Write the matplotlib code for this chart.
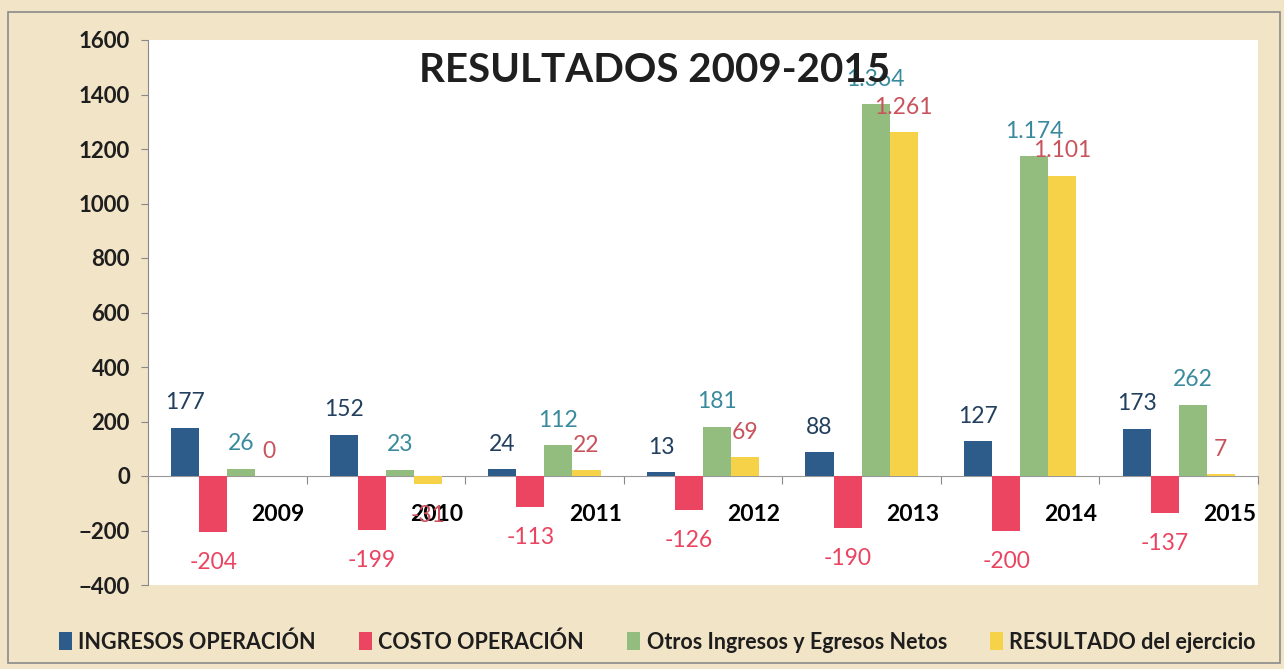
import matplotlib
matplotlib.use("Agg")
import matplotlib.pyplot as plt
from matplotlib.patches import Rectangle, Patch
import numpy as np

# -------- data --------
years = ["2009", "2010", "2011", "2012", "2013", "2014", "2015"]
ingresos = [177, 152, 24, 13, 88, 127, 173]
costo = [-204, -199, -113, -126, -190, -200, -137]
otros = [26, 23, 112, 181, 1364, 1174, 262]
resultado = [0, -31, 22, 69, 1261, 1101, 7]

series_names = ["INGRESOS OPERACIÓN", "COSTO OPERACIÓN",
                "Otros Ingresos y Egresos Netos", "RESULTADO del ejercicio"]

# -------- style --------
BAR_COLORS = ["#2d5c8a", "#ec4562", "#93bd7e", "#f6d248"]
LABEL_COLORS = ["#223f5e", "#ea4461", "#3a8a9e", "#c9535c"]
BG = "#f2e4c6"
plt.rcParams["font.family"] = ["Lato", "DejaVu Sans"]

fig = plt.figure(figsize=(12.84, 6.69), dpi=100)
fig.patch.set_facecolor(BG)
fig.patches.append(Rectangle((8 / 1284, 6 / 669), 1272 / 1284, 651 / 669,
                             transform=fig.transFigure, fill=False,
                             edgecolor="#8a8a8a", lw=1.2))

ax = fig.add_axes([148 / 1284, 1 - 585 / 669, 1110 / 1284, 545 / 669])
ax.set_facecolor("white")

x = np.arange(len(years))
w = 0.177
offsets = [-1.5 * w, -0.5 * w, 0.5 * w, 1.5 * w]
all_series = [ingresos, costo, otros, resultado]

for vals, off, col, lcol in zip(all_series, offsets, BAR_COLORS, LABEL_COLORS):
    ax.bar(x + off, vals, width=w, color=col, zorder=3)
    for xi, v in zip(x, vals):
        txt = f"{v:,}".replace(",", ".")
        dy = 18 if v >= 0 else -22
        ax.annotate(txt, (xi + off, v), xytext=(0, dy), textcoords="offset points",
                    ha="center", va="center", fontsize=16.5, color=lcol, zorder=5)

# category labels, shifted right of each group like the original
for xi, yr in zip(x, years):
    ax.text(xi + 0.32, -143, yr, ha="center", va="center", fontsize=16.5,
            fontweight="bold", color="black", zorder=4)

ax.set_xlim(-0.5, 6.5)
ax.set_ylim(-400, 1600)
ax.set_yticks(np.arange(-400, 1601, 200))
ax.tick_params(axis="y", labelsize=16, length=5, color="#888888", pad=8)
for lab in ax.get_yticklabels():
    lab.set_fontweight("bold")
    lab.set_color("#1e1e1e")

ax.set_xticks(np.arange(-0.5, 7, 1))
ax.set_xticklabels([])
ax.tick_params(axis="x", length=6, color="#888888", direction="out")
ax.spines["bottom"].set_position(("data", 0))
ax.spines["bottom"].set_color("#999999")
ax.spines["left"].set_color("#888888")
ax.spines["top"].set_visible(False)
ax.spines["right"].set_visible(False)

fig.text(655 / 1284, 1 - 70 / 669, "RESULTADOS 2009-2015", ha="center", va="center",
         fontsize=29, fontweight="bold", color="#1f1f1f", zorder=2)

handles = [Patch(facecolor=c, edgecolor="none") for c in BAR_COLORS]
leg = fig.legend(handles, series_names, loc="center", bbox_to_anchor=(0.512, 1 - 642 / 669),
                 ncol=4, frameon=False, fontsize=15.5, handlelength=0.6, handleheight=0.9,
                 handletextpad=0.3, columnspacing=2.0, labelcolor="#1e1e1e")
for t in leg.get_texts():
    t.set_fontweight("bold")

fig.savefig("out.png", dpi=100, facecolor=BG)
